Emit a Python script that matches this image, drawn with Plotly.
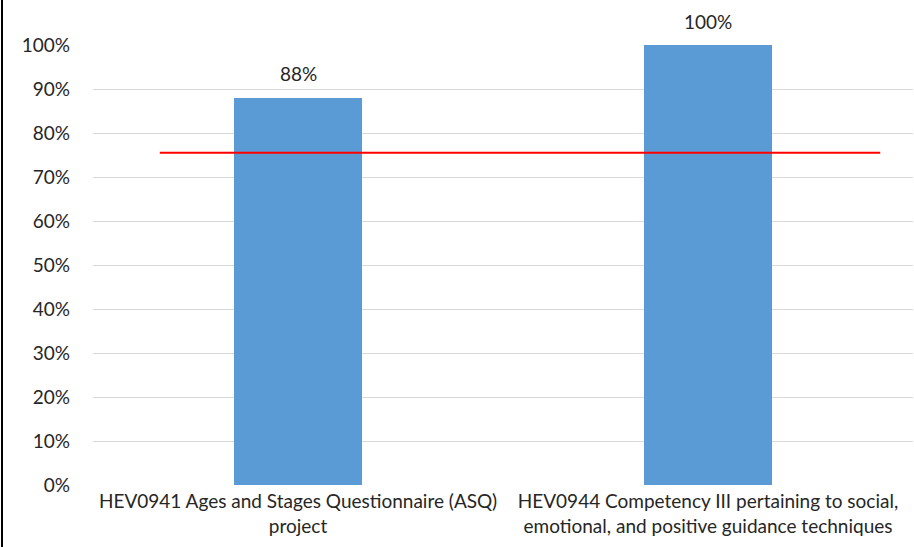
import plotly.graph_objects as go

categories = ["HEV0941 Ages and Stages Questionnaire (ASQ)<br>project",
              "HEV0944 Competency III pertaining to social,<br>emotional, and positive guidance techniques"]
values = [0.88, 1.00]
labels = ["88%", "100%"]
target_value = 0.755
target_x = [-0.337, 1.42]
y_ticks = [i / 10 for i in range(11)]
y_ticktext = [f"{i*10}%" for i in range(11)]

W, H = 914, 547
L, R, T, B = 93, 1, 45, 62
font = "Lato, Calibri, Carlito, sans-serif"
FS = 19

fig = go.Figure()
fig.add_trace(go.Bar(
    x=[0, 1], y=values, width=0.31, marker=dict(color="#5B9BD5", line=dict(width=0)),
    showlegend=False, hoverinfo="skip"))
fig.add_trace(go.Scatter(
    x=target_x, y=[target_value, target_value], mode="lines",
    line=dict(color="#FF0000", width=2), showlegend=False, hoverinfo="skip"))

annotations = [dict(x=i, y=v, text=t, showarrow=False, xref="x", yref="y",
                    yanchor="middle", yshift=24, font=dict(size=FS, color="#262626"))
               for i, (v, t) in enumerate(zip(values, labels))]

edge_x = -(L - 2) / (W - L - R)
fig.update_layout(
    width=W, height=H, margin=dict(l=L, r=R, t=T, b=B, autoexpand=False),
    paper_bgcolor="white", plot_bgcolor="white",
    font=dict(family=font, size=FS, color="#262626"),
    bargap=0,
    xaxis=dict(range=[-0.5, 1.5], tickvals=[0, 1], ticktext=categories,
               showgrid=False, zeroline=False, showline=False, ticks="",
               ticklabelstandoff=3,
               tickfont=dict(size=FS, color="#262626"), tickangle=0, automargin=False),
    yaxis=dict(range=[0, 1], tickvals=y_ticks, ticktext=y_ticktext,
               showgrid=True, gridcolor="#D9D9D9", gridwidth=1, zeroline=False,
               showline=False, ticks="", ticklabelstandoff=22, automargin=False,
               tickfont=dict(size=FS, color="#262626")),
    annotations=annotations,
    shapes=[dict(type="line", xref="paper", yref="paper",
                 x0=edge_x, x1=edge_x,
                 y0=-B / (H - T - B), y1=(H - T) / (H - T - B),
                 line=dict(color="#000000", width=2))],
)
fig.write_html("out.html", config={"displayModeBar": False},
               post_script="document.body.style.margin='0';document.body.style.overflow='hidden';")
